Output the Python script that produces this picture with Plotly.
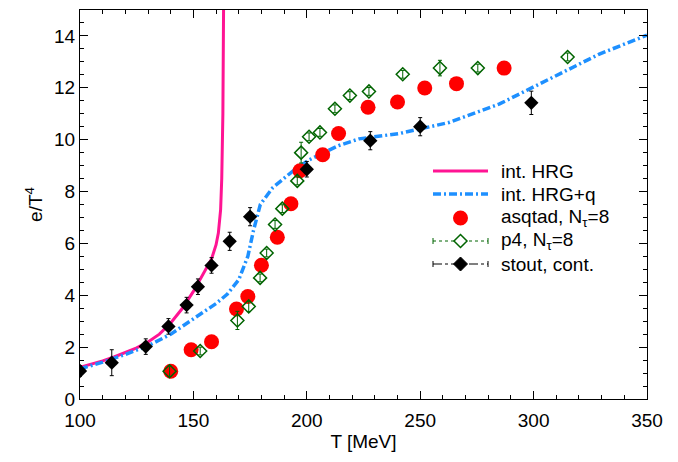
import plotly.graph_objects as go

# ---- data ----
hrg_T = [100, 105, 110, 115, 120, 125, 130, 135, 140, 145, 150, 153, 156, 158, 160, 161, 162, 162.5, 163, 163.3]
hrg_e = [1.22, 1.34, 1.47, 1.62, 1.78, 1.97, 2.2, 2.5, 2.93, 3.48, 4.15, 4.6, 5.05, 5.4, 5.95, 6.4, 7.3, 8.5, 11.0, 15.0]

hrgq_T = [100, 110, 120, 130, 140, 150, 160, 165, 170, 174, 176.5, 179.5, 185, 194, 201, 214, 223, 241, 263, 285, 300, 312, 329, 350]
hrgq_e = [1.16, 1.42, 1.72, 2.05, 2.5, 3.08, 3.68, 4.05, 4.6, 5.5, 6.5, 7.5, 8.15, 8.8, 9.22, 9.77, 10.03, 10.24, 10.67, 11.38, 12.03, 12.55, 13.3, 14.03]

asq_T = [140, 149, 158, 169, 174, 180, 187, 193, 197, 207, 214, 227, 240, 252, 266, 287]
asq_e = [1.07, 1.9, 2.21, 3.47, 3.95, 5.16, 6.24, 7.53, 8.8, 9.42, 10.24, 11.25, 11.45, 11.99, 12.16, 12.76]

p4_T = [139.5, 153, 169.4, 174.4, 179.4, 182.3, 186, 189.2, 195.8, 197.5, 201, 205.8, 212.4, 219, 227.4, 242.3, 258.7, 275.4, 315]
p4_e = [1.07, 1.85, 3.03, 3.57, 4.67, 5.63, 6.73, 7.34, 8.41, 9.5, 10.11, 10.28, 11.19, 11.7, 11.86, 12.52, 12.76, 12.76, 13.19]
p4_err = [0.2, 0.15, 0.35, 0.2, 0.15, 0.15, 0.15, 0.15, 0.15, 0.4, 0.15, 0.15, 0.15, 0.15, 0.15, 0.15, 0.3, 0.15, 0.15]

st_T = [100, 114, 129, 139, 147, 152, 158, 166, 175, 200, 228, 250, 299]
st_e = [1.08, 1.4, 2.02, 2.8, 3.62, 4.33, 5.15, 6.08, 7.03, 8.86, 9.96, 10.5, 11.42]
st_err = [0.2, 0.5, 0.3, 0.3, 0.3, 0.3, 0.3, 0.35, 0.35, 0.3, 0.35, 0.35, 0.45]

x_ticks = [100, 150, 200, 250, 300, 350]
y_ticks = [0, 2, 4, 6, 8, 10, 12, 14]

legend_labels = ["int. HRG", "int. HRG+q", "asqtad, N<sub>τ</sub>=8", "p4, N<sub>τ</sub>=8", "stout, cont."]

PINK = "#ff1493"
BLUE = "#1e90ff"
RED = "#ff0000"
GREEN = "#006400"
BLACK = "#000000"
BLUE_DASH = "8px,3px,2px,3px"
FONT = "Liberation Sans, Arial, sans-serif"

# page has an 8px body margin -> figure occupies 670x454 of the 678x462 window
W, H = 670, 454
ML, MR, MT, MB = 72, 31, 2, 63
PW = W - ML - MR
PH = H - MT - MB

fig = go.Figure()

fig.add_trace(go.Scatter(x=hrg_T, y=hrg_e, mode="lines",
                         line=dict(color=PINK, width=3), showlegend=False))
fig.add_trace(go.Scatter(x=hrgq_T, y=hrgq_e, mode="lines",
                         line=dict(color=BLUE, width=3.5, dash=BLUE_DASH),
                         showlegend=False))
fig.add_trace(go.Scatter(x=asq_T, y=asq_e, mode="markers",
                         marker=dict(color=RED, size=15, line=dict(width=0)),
                         showlegend=False))
fig.add_trace(go.Scatter(x=p4_T, y=p4_e, mode="markers",
                         error_y=dict(type="data", array=p4_err, color=GREEN, thickness=1, width=2),
                         marker=dict(symbol="diamond-open", size=10, color=GREEN, line=dict(width=1.5)),
                         showlegend=False))
fig.add_trace(go.Scatter(x=st_T, y=st_e, mode="markers",
                         error_y=dict(type="data", array=st_err, color=BLACK, thickness=1, width=2),
                         marker=dict(symbol="diamond", size=11, color=BLACK),
                         showlegend=False))

# ---- key (legend) drawn in plot-fraction coordinates ----
def px_x(X):
    return (X - 8 - ML) / PW

def px_y(Y):
    return (H - MB - (Y - 8)) / PH

row_Y = [171, 194, 218, 241, 264]
sx0, sx1, smid, tx = px_x(433), px_x(488), px_x(460.5), px_x(499)

shapes = []
annotations = []
for i, label in enumerate(legend_labels):
    yy = px_y(row_Y[i])
    annotations.append(dict(x=tx, y=yy, xref="paper", yref="paper", text=label,
                            showarrow=False, xanchor="left", yanchor="middle",
                            font=dict(family=FONT, size=19, color="black")))

shapes.append(dict(type="line", xref="paper", yref="paper", x0=sx0, x1=sx1,
                   y0=px_y(row_Y[0]), y1=px_y(row_Y[0]), line=dict(color=PINK, width=3)))
shapes.append(dict(type="line", xref="paper", yref="paper", x0=sx0, x1=sx1,
                   y0=px_y(row_Y[1]), y1=px_y(row_Y[1]), line=dict(color=BLUE, width=3.5, dash=BLUE_DASH)))
shapes.append(dict(type="line", xref="paper", yref="paper", x0=sx0, x1=sx1,
                   y0=px_y(row_Y[3]), y1=px_y(row_Y[3]), line=dict(color=GREEN, width=1, dash="dot")))
shapes.append(dict(type="line", xref="paper", yref="paper", x0=sx0, x1=sx1,
                   y0=px_y(row_Y[4]), y1=px_y(row_Y[4]), line=dict(color=BLACK, width=1, dash="dashdot")))
for r, c in ((3, GREEN), (4, BLACK)):
    for xe in (sx0, sx1):
        shapes.append(dict(type="line", xref="paper", yref="paper", xsizemode="pixel", ysizemode="pixel",
                           xanchor=xe, yanchor=px_y(row_Y[r]), x0=0, x1=0, y0=-3, y1=3,
                           line=dict(color=c, width=1)))
shapes.append(dict(type="circle", xref="paper", yref="paper", xsizemode="pixel", ysizemode="pixel",
                   xanchor=smid, yanchor=px_y(row_Y[2]), x0=-7.5, x1=7.5, y0=-7.5, y1=7.5,
                   fillcolor=RED, line=dict(width=0)))
shapes.append(dict(type="path", xref="paper", yref="paper", xsizemode="pixel", ysizemode="pixel",
                   xanchor=smid, yanchor=px_y(row_Y[3]),
                   path="M0,-6.5 L6.5,0 L0,6.5 L-6.5,0 Z",
                   fillcolor="white", line=dict(color=GREEN, width=1.5)))
shapes.append(dict(type="path", xref="paper", yref="paper", xsizemode="pixel", ysizemode="pixel",
                   xanchor=smid, yanchor=px_y(row_Y[4]),
                   path="M0,-7 L7,0 L0,7 L-7,0 Z",
                   fillcolor=BLACK, line=dict(color=BLACK, width=1)))

axis_common = dict(showline=True, linecolor="black", linewidth=1, mirror="allticks",
                   ticks="inside", ticklen=8, tickwidth=1, tickcolor="black",
                   showgrid=False, zeroline=False,
                   tickfont=dict(family=FONT, size=19, color="black"))

fig.update_xaxes(range=[100, 350], tickvals=x_ticks, ticktext=[str(v) for v in x_ticks],
                 minor=dict(ticks="inside", ticklen=4, dtick=10, tickcolor="black", tickwidth=1),
                 ticklabelstandoff=4,
                 title=dict(text="T [MeV]", font=dict(family=FONT, size=19, color="black"), standoff=4),
                 **axis_common)
fig.update_yaxes(range=[0, 15], tickvals=y_ticks, ticktext=[str(v) for v in y_ticks],
                 minor=dict(ticks="inside", ticklen=4, dtick=0.5, tickcolor="black", tickwidth=1),
                 title=dict(text="e/T<sup>4</sup>", font=dict(family=FONT, size=19, color="black"), standoff=6),
                 **axis_common)

fig.update_layout(
    width=W, height=H,
    margin=dict(l=ML, r=MR, t=MT, b=MB, autoexpand=False),
    paper_bgcolor="white", plot_bgcolor="white",
    font=dict(family=FONT, size=19, color="black"),
    showlegend=False,
    shapes=shapes,
    annotations=annotations,
)

fig.write_html("out.html")
